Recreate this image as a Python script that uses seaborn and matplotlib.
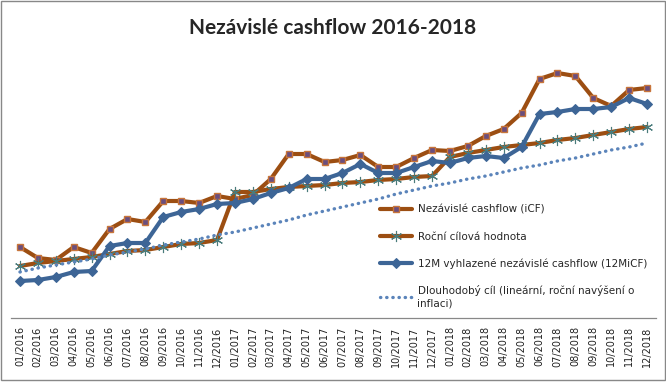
"""
Nezávislé cashflow 2016-2018 -- line chart recreated with seaborn
Outputs out.png
"""

import matplotlib.pyplot as plt
import matplotlib.patches as patches
import numpy as np
import pandas as pd
import seaborn as sns

months = [f"{m:02d}/{y}" for y in (2016, 2017, 2018) for m in range(1, 13)]

icf = [71, 60, 58, 71, 65, 89, 99, 96, 117, 117, 115, 122,
       119, 123, 139, 164, 164, 156, 158, 163, 151, 151, 160, 168,
       167, 172, 182, 189, 205, 239, 245, 242, 220, 212, 228, 230]

rocni_cil = [52, 55, 57, 59, 61, 64, 67, 68, 71, 74, 75, 78,
             126, 126, 129, 131, 132, 133, 135, 136, 138, 139, 141, 142,
             161, 165, 168, 171, 173, 175, 178, 180, 183, 186, 189, 191]

icf_12m = [37, 38, 41, 46, 47, 72, 75, 75, 101, 106, 109, 114,
           115, 119, 125, 130, 139, 139, 145, 154, 145, 145, 151, 157,
           155, 160, 162, 160, 171, 204, 206, 209, 209, 211, 220, 214]

dlouhodoby_cil = [46, 50, 53, 56, 59, 63, 66, 69, 73, 76, 79, 83,
                  86, 90, 94, 98, 103, 107, 111, 115, 119, 124, 128, 132,
                  135, 139, 142, 146, 150, 153, 157, 160, 164, 168, 171, 175]

labels = ["Nezávislé cashflow (iCF)",
          "Roční cílová hodnota",
          "12M vyhlazené nezávislé cashflow (12MiCF)",
          "Dlouhodobý cíl (lineární, roční navýšení o\ninflaci)"]


def main():
    sns.set_style("white")
    plt.rcParams['font.family'] = ['DejaVu Sans']

    df = pd.DataFrame({'i': np.arange(len(months)), 'icf': icf,
                       'rocni': rocni_cil, 'm12': icf_12m,
                       'dlouho': dlouhodoby_cil})

    fig = plt.figure(figsize=(6.66, 3.84), dpi=100)
    ax = fig.add_axes([11 / 666, 66 / 384, 645 / 666, 265 / 384])

    brown = '#9C4E12'
    sns.lineplot(data=df, x='i', y='icf', ax=ax, color=brown, lw=3,
                 marker='s', markersize=5, markerfacecolor='#6A4E7E',
                 markeredgecolor='#C8753A', markeredgewidth=1,
                 label=labels[0])
    sns.lineplot(data=df, x='i', y='rocni', ax=ax, color=brown, lw=3,
                 marker=(6, 2, 0), markersize=8, markeredgecolor='#4A7C7C',
                 markeredgewidth=0.8, label=labels[1])
    sns.lineplot(data=df, x='i', y='m12', ax=ax, color='#3D6596', lw=3,
                 marker='D', markersize=5, markerfacecolor='#3D6596',
                 markeredgecolor='#3D6596', label=labels[2])
    sns.lineplot(data=df, x='i', y='dlouho', ax=ax, color='#5B84BA', lw=2.4,
                 linestyle=(0, (0.1, 1.75)), dash_capstyle='round',
                 label=labels[3])

    ax.set_xlim(-0.5, len(months) - 0.5)
    ax.set_ylim(0, 265)
    ax.set_xticks(range(len(months)))
    ax.set_xticklabels(months, rotation=90, fontsize=7, color='#222222')
    ax.set_xticks(np.arange(-0.5, len(months), 1), minor=True)
    ax.tick_params(axis='x', which='major', length=0, pad=6)
    ax.tick_params(axis='x', which='minor', length=3.5, color='#888888',
                   width=0.8)
    ax.set_yticks([])
    ax.set_xlabel("")
    ax.set_ylabel("")
    for side in ('top', 'left', 'right'):
        ax.spines[side].set_visible(False)
    ax.spines['bottom'].set_color('#888888')
    ax.spines['bottom'].set_linewidth(0.9)

    ax.legend(loc='upper left', bbox_to_anchor=(380 / 666, 1 - 205 / 384),
              bbox_transform=fig.transFigure, frameon=False, fontsize=7.5,
              borderpad=0, borderaxespad=0, handlelength=3.1,
              handletextpad=0.5, labelspacing=1.6)

    fig.text(0.5, 1 - 28 / 384, "Nezávislé cashflow 2016-2018",
             ha='center', va='center', fontsize=15, fontweight='bold',
             family=['Lato', 'DejaVu Sans'])

    fig.patches.append(patches.Rectangle(
        (0.5 / 666, 4.5 / 384), 664.5 / 666, 379 / 384,
        transform=fig.transFigure, fill=False, edgecolor='#888888', lw=1))

    fig.savefig('out.png', dpi=100)


if __name__ == '__main__':
    main()
